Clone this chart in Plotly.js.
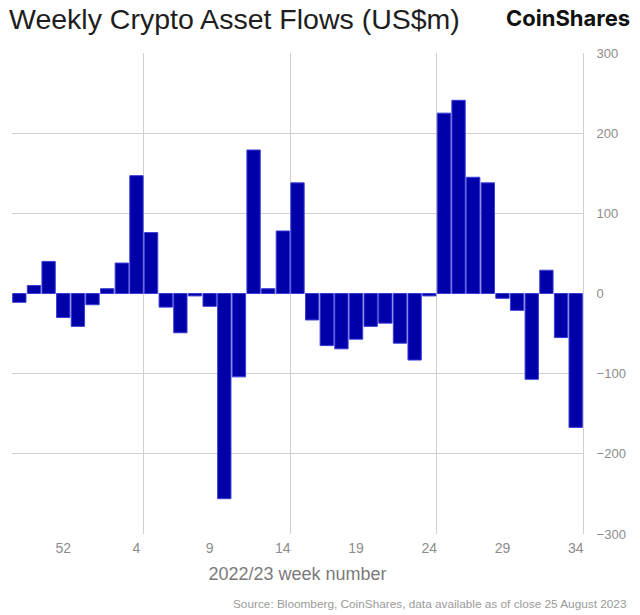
<!DOCTYPE html>
<html>
<head>
<meta charset="utf-8">
<script src="https://cdn.plot.ly/plotly-3.0.1.min.js"></script>
<style>
html,body{margin:0;padding:0;background:#fff;}
#chart{width:640px;height:615px;}
</style>
</head>
<body>
<div id="chart"></div>
<script>
// Week numbers (2022 weeks 49-53, then 2023 weeks 1-34)
const weeks = [49,50,51,52,53,1,2,3,4,5,6,7,8,9,10,11,12,13,14,15,16,17,18,19,20,21,22,23,24,25,26,27,28,29,30,31,32,33,34];
// Weekly flows, US$m
const flows = [-11,10,40,-30,-41,-14,6,38,147,76,-17,-49,-3,-16,-256,-104,179,6,78,138,-33,-65,-69,-57,-41,-37,-62,-83,-3,225,241,145,138,-6,-21,-107,29,-55,-167];
const tickWeeks = [52,4,9,14,19,24,29,34];
const yTicks = [300,200,100,0,-100,-200,-300];

const idx = weeks.map((w,i)=>i);
const tickPos = tickWeeks.map(w=>weeks.indexOf(w));
const gridPos = [8.5,18.5,28.5];

const trace = {
  type:'bar', x: idx, y: flows,
  marker:{color:'#0000a8', line:{color:'#3b3bd6', width:1}},
  hoverinfo:'skip'
};
const dummy = {type:'scatter', x:[0], y:[0], xaxis:'x2', yaxis:'y2', mode:'markers', marker:{opacity:0}, hoverinfo:'skip', showlegend:false};

const grey = '#8c8c8c';
const gridc = '#cfcfcf';
const layout = {
  width:640, height:615,
  margin:{l:12, r:57, t:53, b:81},
  paper_bgcolor:'#fff', plot_bgcolor:'#fff',
  showlegend:false, bargap:0.09,
  font:{family:'Liberation Sans, Arial, sans-serif', color:grey},
  xaxis:{range:[-0.5, weeks.length-0.5], tickmode:'array', tickvals:tickPos, ticktext:tickWeeks.map(String),
         showgrid:false, zeroline:false, showline:false, ticks:'', tickfont:{size:14, color:grey}, ticklabelstandoff:4,
         title:{text:'2022/23 week number', font:{size:18, color:'#7a7a7a'}, standoff:12}},
  xaxis2:{overlaying:'x', range:[-0.5, weeks.length-0.5], tickmode:'array', tickvals:gridPos,
          showgrid:true, gridcolor:gridc, gridwidth:1, showticklabels:false, ticks:'', zeroline:false},
  yaxis:{range:[-300,300], side:'right', tickmode:'array', tickvals:yTicks, showgrid:false, zeroline:false,
         showline:true, linecolor:gridc, linewidth:1, ticks:'', tickfont:{size:13, color:grey}, ticklabelstandoff:10},
  yaxis2:{overlaying:'y', range:[-300,300], tickmode:'array', tickvals:[300,200,100,-100,-200,-300],
          showgrid:true, gridcolor:gridc, gridwidth:1, showticklabels:false, ticks:'', zeroline:false},
  annotations:[
    {text:'Weekly Crypto Asset Flows (US$m)', xref:'paper', yref:'paper', x:-0.008, y:1.0, xanchor:'left', yanchor:'bottom', yshift:16,
     showarrow:false, font:{size:28.5, color:'#1e1e1e', family:'Liberation Sans, Arial, sans-serif'}},
    {text:'<b>CoinShares</b>', xref:'paper', yref:'paper', x:1.085, y:1.0, xanchor:'right', yanchor:'bottom', yshift:20,
     showarrow:false, font:{size:22, color:'#111', family:'Inter, Liberation Sans, Arial, sans-serif'}},
    {text:'Source: Bloomberg, CoinShares, data available as of close 25 August 2023', xref:'paper', yref:'paper', x:1.08, y:0, xanchor:'right', yanchor:'top', yshift:-61,
     showarrow:false, font:{size:11.8, color:'#9a9a9a', family:'Liberation Sans, Arial, sans-serif'}}
  ]
};
Plotly.newPlot('chart',[dummy, trace],layout,{staticPlot:true, displayModeBar:false});
</script>
</body>
</html>
